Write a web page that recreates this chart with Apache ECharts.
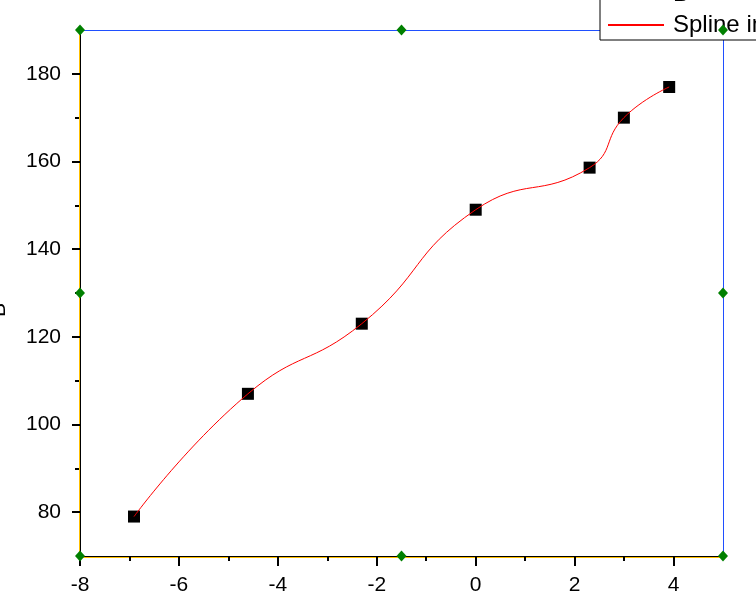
<!DOCTYPE html>
<html>
<head>
<meta charset="utf-8">
<script src="https://cdn.jsdelivr.net/npm/echarts@6/dist/echarts.min.js"></script>
<style>
  html, body { margin: 0; padding: 0; background: #fff; }
  #main { width: 756px; height: 610px; }
</style>
</head>
<body>
<div id="main"></div>
<script>
// 数据：x 为 ln 值，y 为测量值
const xValues = [-6.908, -4.605, -2.303, 0, 2.303, 2.996, 3.912]
const yValues = [79, 107, 123, 149, 158.6, 170, 177]
const seriesNames = ['B', 'Spline interpolation of B']

// 刻度
const xTicks = [-8, -6, -4, -2, 0, 2, 4]
const xMinor = [-7, -5, -3, -1, 1, 3]
const yTicks = [80, 100, 120, 140, 160, 180]
const yMinor = [90, 110, 130, 150, 170]

// 选择框的控制点 (Origin 风格)
const handleX = [-8, -1.5, 5]
const handleY = [190, 130, 70]

const FONT = "'Liberation Sans', Arial, sans-serif"
const BLUE = '#1f4fff'
const YELLOW = '#ffc000'

const points = xValues.map((x, i) => [x, yValues[i]])
const handles = []
handleY.forEach((y, j) => {
  handleX.forEach((x, i) => {
    if (i === 1 && j === 1) return
    handles.push([x, y])
  })
})

const hidden = { show: false }
const xRange = { type: 'value', min: -8, max: 5, splitLine: hidden, minorSplitLine: hidden }
const yRange = { type: 'value', min: 70, max: 190, splitLine: hidden, minorSplitLine: hidden }

const myChart = echarts.init(document.getElementById('main'))
const options = {
  backgroundColor: '#FFFFFF',
  animation: false,
  grid: { left: 80, right: 33, top: 30, bottom: 54, containLabel: false, outerBoundsMode: 'none' },
  legend: {
    data: [
      { name: seriesNames[0], itemStyle: { opacity: 0 } },
      { name: seriesNames[1], itemStyle: { opacity: 0 } }
    ],
    orient: 'vertical',
    left: 600,
    top: -23,
    padding: [5, 10, 3, 7],
    itemGap: 7,
    itemWidth: 56,
    itemHeight: 14,
    borderColor: '#000',
    borderWidth: 1,
    borderRadius: 0,
    backgroundColor: '#fff',
    textStyle: { fontFamily: FONT, fontSize: 24, color: '#000', lineHeight: 24, padding: [0, 0, 0, 4] }
  },
  xAxis: [
    Object.assign({}, xRange, {
      position: 'bottom',
      axisLine: { onZero: false, lineStyle: { color: '#000', width: 1 } },
      axisTick: { customValues: xTicks, length: 10, lineStyle: { color: '#000', width: 2 } },
      axisLabel: { customValues: xTicks, fontFamily: FONT, fontSize: 21, color: '#000', margin: 19 }
    }),
    Object.assign({}, xRange, {
      position: 'bottom',
      offset: 1,
      axisLine: { onZero: false, lineStyle: { color: YELLOW, width: 1 } },
      axisTick: { customValues: xMinor, length: 4, lineStyle: { color: '#000', width: 2 } },
      axisLabel: hidden
    }),
    Object.assign({}, xRange, {
      position: 'top',
      axisLine: { onZero: false, lineStyle: { color: BLUE, width: 1 } },
      axisTick: hidden,
      axisLabel: hidden
    })
  ],
  yAxis: [
    Object.assign({}, yRange, {
      position: 'left',
      name: 'B',
      nameLocation: 'middle',
      nameRotate: 90,
      nameGap: 70,
      nameTextStyle: { fontFamily: FONT, fontSize: 21, color: '#000', padding: [0, 34, 0, 0] },
      axisLine: { onZero: false, lineStyle: { color: '#000', width: 1 } },
      axisTick: { customValues: yTicks, length: 8, lineStyle: { color: '#000', width: 2 } },
      axisLabel: { customValues: yTicks, fontFamily: FONT, fontSize: 21, color: '#000', margin: 19 }
    }),
    Object.assign({}, yRange, {
      position: 'left',
      offset: 1,
      axisLine: { onZero: false, lineStyle: { color: YELLOW, width: 1 } },
      axisTick: { customValues: yMinor, length: 4, lineStyle: { color: '#000', width: 2 } },
      axisLabel: hidden
    }),
    Object.assign({}, yRange, {
      position: 'right',
      axisLine: { onZero: false, lineStyle: { color: BLUE, width: 1 } },
      axisTick: hidden,
      axisLabel: hidden
    })
  ],
  series: [
    {
      name: seriesNames[0],
      type: 'scatter',
      data: points,
      symbol: 'rect',
      symbolSize: 12,
      itemStyle: { color: '#000', opacity: 1 },
      z: 2
    },
    {
      name: seriesNames[1],
      type: 'line',
      data: points,
      smooth: 0.5,
      showSymbol: false,
      symbol: 'none',
      lineStyle: { color: '#ff0000', width: 1 },
      itemStyle: { color: '#ff0000' },
      z: 3
    },
    {
      name: 'handles',
      type: 'scatter',
      data: handles,
      symbol: 'diamond',
      symbolSize: [10, 11],
      clip: false,
      silent: true,
      itemStyle: { color: '#008000', opacity: 1 },
      z: 5
    }
  ]
}
myChart.setOption(options)
</script>
</body>
</html>
